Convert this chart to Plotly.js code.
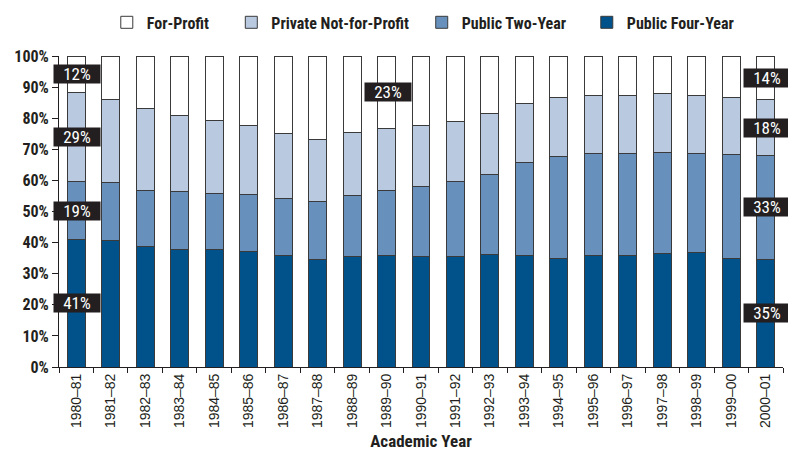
<!DOCTYPE html>
<html><head><meta charset="utf-8">
<script src="https://cdn.plot.ly/plotly-3.0.1.min.js"></script>
<style>body{margin:0;background:#fff}#chart{width:788px;height:451px}</style>
</head><body><div id="chart"></div>
<script>
var years = ["1980–81","1981–82","1982–83","1983–84","1984–85","1985–86","1986–87","1987–88","1988–89","1989–90","1990–91","1991–92","1992–93","1993–94","1994–95","1995–96","1996–97","1997–98","1998–99","1999–00","2000–01"];
var publicFour = [40.9,40.7,38.8,37.9,37.7,37.0,35.7,34.7,35.5,35.8,35.5,35.4,36.2,35.9,34.9,36.0,35.9,36.4,36.8,34.9,34.7];
var publicTwo  = [18.6,18.6,17.9,18.6,18.1,18.6,18.4,18.4,19.7,20.9,22.5,24.2,25.6,29.9,32.7,32.5,32.8,32.6,32.0,33.4,33.2];
var privateNP  = [28.7,26.8,26.5,24.4,23.4,22.1,20.9,20.2,20.1,20.0,19.6,19.5,19.6,18.8,19.0,18.7,18.5,18.8,18.6,18.4,18.2];
var forProfit  = [11.8,13.9,16.8,19.1,20.8,22.3,25.0,26.7,24.7,23.3,22.4,20.9,18.6,15.4,13.4,12.8,12.8,12.2,12.6,13.3,13.9];
var yTicks = [0,10,20,30,40,50,60,70,80,90,100];
var yTickText = ["0%","10%","20%","30%","40%","50%","60%","70%","80%","90%","100%"];
var labelled = [
  {i:0, fp:true, pr:true, tw:true, fo:true},
  {i:9, fp:true},
  {i:20, fp:true, pr:true, tw:true, fo:true}
];

var condensed = "'Roboto Condensed', 'Liberation Sans Narrow', 'Liberation Sans', Arial, sans-serif";
var ink = '#231f20';
var outline = {color:'#3a3a3a', width:1};
function tr(name, vals, color, leg){
  return {type:'bar', name:name, x:years, y:vals, legend:leg, marker:{color:color, line:outline}, hoverinfo:'skip'};
}
var data = [
  tr('Public Four-Year', publicFour, '#01518a', 'legend4'),
  tr('Public Two-Year', publicTwo, '#6791bc', 'legend3'),
  tr('Private Not-for-Profit', privateNP, '#b8c9e0', 'legend2'),
  tr('For-Profit', forProfit, '#ffffff', 'legend')
];

var ann = [];
function addAnn(i, base, val){
  ann.push({x:years[i], y:base+val/2, xref:'x', yref:'y', text:Math.round(val)+'%', showarrow:false,
    bgcolor:ink, font:{color:'#ffffff', size:17, family:condensed}, width:42, height:14, borderpad:2, xshift:1});
}
labelled.forEach(function(L){
  var i=L.i, b1=publicFour[i], b2=b1+publicTwo[i], b3=b2+privateNP[i];
  if(L.fo) addAnn(i,0,publicFour[i]);
  if(L.tw) addAnn(i,b1,publicTwo[i]);
  if(L.pr) addAnn(i,b2,privateNP[i]);
  if(L.fp) addAnn(i,b3,forProfit[i]);
});

function leg(x){
  return {orientation:'h', x:x, xanchor:'left', y:1.108, yanchor:'middle', bgcolor:'rgba(0,0,0,0)',
    font:{family:condensed, size:16, color:ink, weight:'bold'}, itemwidth:30};
}
var layout = {
  width:788, height:451,
  margin:{l:59, r:5, t:56, b:84},
  paper_bgcolor:'#fff', plot_bgcolor:'#fff',
  barmode:'stack', bargap:0.48,
  showlegend:true,
  legend:leg(0.066), legend2:leg(0.238), legend3:leg(0.501), legend4:leg(0.729),
  xaxis:{type:'category', range:[-0.5,20.5], tickangle:-90, showline:true, linecolor:ink, linewidth:1,
    ticks:'outside', ticklen:5, tickcolor:ink, tickson:'boundaries', showgrid:false, zeroline:false,
    tickfont:{family:"'Liberation Sans', Arial, sans-serif", size:14, color:ink},
    title:{text:'Academic Year', font:{family:condensed, size:17, color:ink, weight:'bold'}, standoff:10}},
  yaxis:{range:[0,100], tickvals:yTicks, ticktext:yTickText, showline:true, linecolor:ink, linewidth:1,
    ticks:'outside', ticklen:6, tickcolor:ink, showgrid:false, zeroline:false,
    tickfont:{family:condensed, size:16, color:ink, weight:'bold'}},
  annotations:ann
};
Plotly.newPlot('chart', data, layout, {displayModeBar:false, staticPlot:true});
</script></body></html>
